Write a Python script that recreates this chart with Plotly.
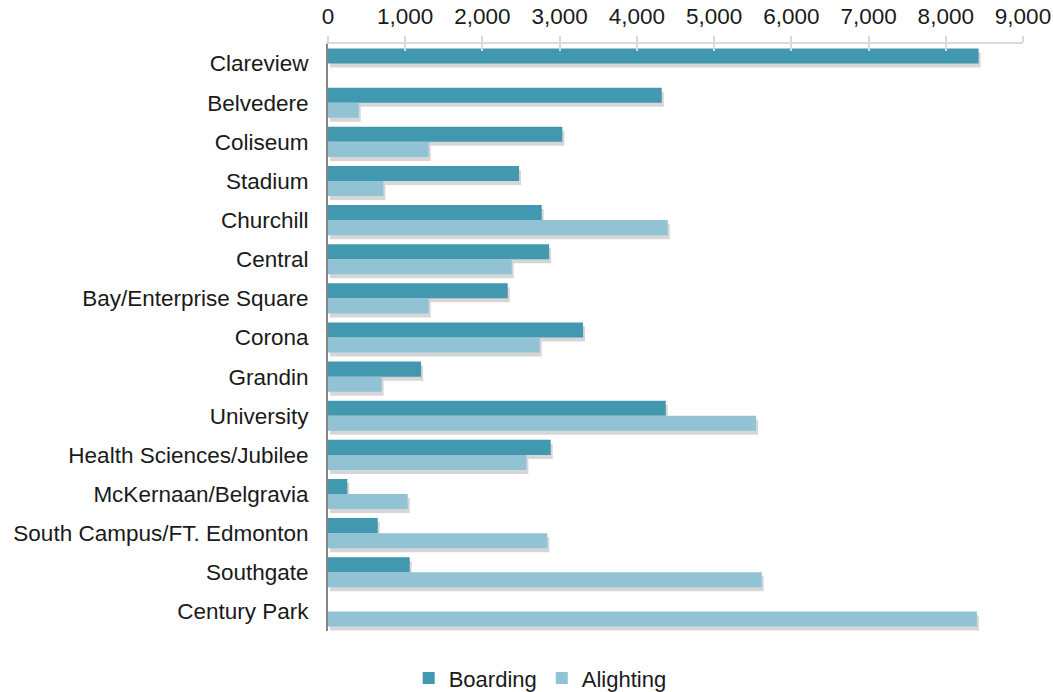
import plotly.graph_objects as go

stations = ["Clareview", "Belvedere", "Coliseum", "Stadium", "Churchill", "Central",
            "Bay/Enterprise Square", "Corona", "Grandin", "University",
            "Health Sciences/Jubilee", "McKernaan/Belgravia",
            "South Campus/FT. Edmonton", "Southgate", "Century Park"]
boarding = [8425, 4322, 3035, 2474, 2768, 2863, 2327, 3303, 1205, 4374,
            2884, 250, 644, 1058, 0]
alighting = [0, 398, 1304, 717, 4400, 2379, 1304, 2742, 695, 5544,
             2569, 1032, 2841, 5617, 8403]
x_ticks = [0, 1000, 2000, 3000, 4000, 5000, 6000, 7000, 8000, 9000]

FONT = "Liberation Sans, Arial, sans-serif"
BOARD = "#4298AF"
ALIGHT = "#91C3D5"
SHADOW = "rgba(0,0,0,0.16)"

n = len(stations)
XMAX = 9000
PLOT_W = 1053 - 328 - 30
PLOT_H = 692 - 44 - 61
dx = 2.0 / PLOT_W * XMAX          # shadow offset, right
dy = 4.0 / PLOT_H * n             # shadow offset, down

fig = go.Figure()
# soft drop shadows (base subplot, drawn underneath)
for vals in (boarding, alighting):
    fig.add_trace(go.Bar(y=stations, x=vals, orientation="h", xaxis="x", yaxis="y",
                         marker=dict(color=SHADOW, line=dict(width=0)),
                         showlegend=False, hoverinfo="skip"))
# real bars
fig.add_trace(go.Bar(y=stations, x=boarding, name="Boarding", orientation="h",
                     xaxis="x2", yaxis="y2",
                     marker=dict(color=BOARD, line=dict(width=0))))
fig.add_trace(go.Bar(y=stations, x=alighting, name="Alighting", orientation="h",
                     xaxis="x2", yaxis="y2",
                     marker=dict(color=ALIGHT, line=dict(width=0))))
# invisible trace to activate the inner tick axis
fig.add_trace(go.Scatter(x=[0], y=[stations[0]], xaxis="x3", yaxis="y2",
                         mode="markers", marker=dict(opacity=0),
                         showlegend=False, hoverinfo="skip"))

hidden = dict(showgrid=False, zeroline=False, showline=False,
              showticklabels=False, ticks="", automargin=False)

fig.update_layout(
    width=1053, height=692,
    margin=dict(l=328, r=30, t=44, b=61, autoexpand=False),
    paper_bgcolor="white", plot_bgcolor="white",
    barmode="group", bargap=0.23, bargroupgap=0,
    font=dict(family=FONT, size=22, color="#1a1a1a"),
    showlegend=True,
    legend=dict(orientation="h", xref="container", x=0.513, xanchor="center",
                yref="container", y=0.02, yanchor="middle",
                font=dict(size=22), itemwidth=30, traceorder="normal"),
    xaxis=dict(range=[-dx, XMAX - dx], **hidden),
    yaxis=dict(range=[n - 0.5 - dy, -0.5 - dy], type="category", **hidden),
    xaxis2=dict(overlaying="x", side="top", range=[0, XMAX], tickvals=x_ticks,
                tickformat=",d", showgrid=False, zeroline=False,
                showline=True, linecolor="#d9d9d9", linewidth=2,
                ticks="outside", ticklen=6, tickcolor="#d9d9d9", tickwidth=2,
                ticklabelstandoff=3, tickfont=dict(size=22.5), automargin=False,
                anchor="y2"),
    yaxis2=dict(overlaying="y", range=[n - 0.5, -0.5], type="category",
                showgrid=False, zeroline=False,
                showline=True, linecolor="#868686", linewidth=2,
                ticks="", ticklabelstandoff=13, tickfont=dict(size=22.5),
                automargin=False, anchor="x2"),
    xaxis3=dict(overlaying="x", side="top", range=[0, XMAX], tickvals=x_ticks,
                showticklabels=False, showgrid=False, zeroline=False,
                showline=False, ticks="inside", ticklen=7,
                tickcolor="#d9d9d9", tickwidth=2, automargin=False, anchor="y2"),
)

fig.write_html("out.html")
